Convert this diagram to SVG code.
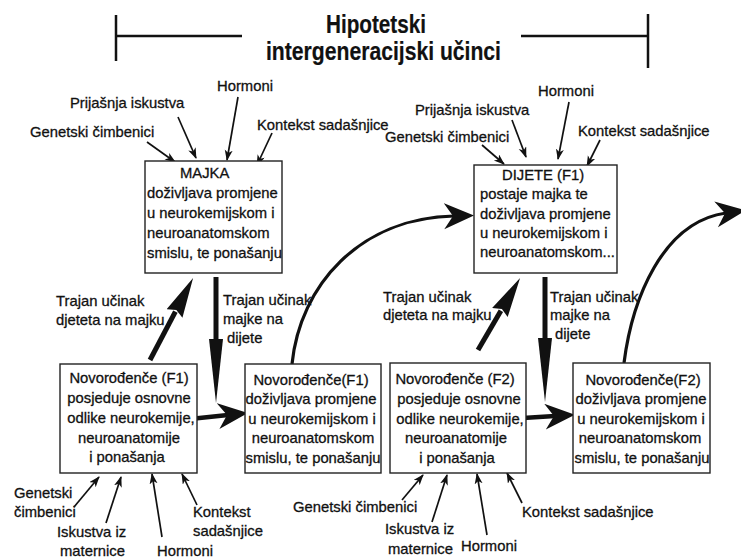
<svg xmlns="http://www.w3.org/2000/svg" width="741" height="558" viewBox="0 0 741 558">
<style>
text{font-family:"Liberation Sans",Arial,sans-serif;font-size:14.8px;fill:#111;stroke:#111;stroke-width:0.3}
.c{text-anchor:middle}
.title{font-weight:bold;font-size:25px;stroke-width:0.2}
.box{fill:#fff;stroke:#222;stroke-width:1.4}
.br{stroke:#111;stroke-width:2.5;fill:none}
.thin{stroke:#111;stroke-width:1.7;fill:none;marker-end:url(#sm)}
.curve{stroke:#111;stroke-width:3.2;fill:none;marker-end:url(#barb)}
.horiz{stroke:#111;stroke-width:4.5;fill:none;marker-end:url(#barb)}
.up{stroke:#111;stroke-width:5;fill:none;marker-end:url(#uph)}
.down{stroke:#111;stroke-width:5;fill:none;marker-end:url(#dnh)}
</style>
<defs>
<marker id="sm" markerUnits="userSpaceOnUse" markerWidth="12" markerHeight="9" refX="10" refY="4" orient="auto"><path d="M0,0 L11,4 L0,8 L3,4 z" fill="#111"/></marker>
<marker id="barb" markerUnits="userSpaceOnUse" markerWidth="31" markerHeight="27" refX="10" refY="13" orient="auto"><path d="M0,0 L30,13 L0,26 L9,13 z" fill="#111"/></marker>
<marker id="uph" markerUnits="userSpaceOnUse" markerWidth="41" markerHeight="19" refX="2" refY="9" orient="auto"><path d="M0,0 L40,9 L0,18 L4,9 z" fill="#111"/></marker>
<marker id="dnh" markerUnits="userSpaceOnUse" markerWidth="65" markerHeight="15" refX="2" refY="7" orient="auto"><path d="M0,0 L64,7 L0,14 z" fill="#111"/></marker>
</defs>
<rect width="741" height="558" fill="#fff"/>

<g id="title">
<path class="br" d="M116,15 V61 M116,36 H242 M521,36 H648 M648,14 V68"/>
<text class="title" x="326" y="33" textLength="100" lengthAdjust="spacingAndGlyphs">Hipotetski</text>
<text class="title" x="266" y="60" textLength="235" lengthAdjust="spacingAndGlyphs">intergeneracijski učinci</text>
</g>

<g id="connectors">
<path class="thin" d="M147,142 L175,162"/>
<path class="thin" d="M178,117 L196,158"/>
<path class="thin" d="M238,97 L227,160"/>
<path class="thin" d="M272,133 L257,165"/>
<path class="thin" d="M482,145 L504,164"/>
<path class="thin" d="M512,120 L526,157"/>
<path class="thin" d="M569,102 L558,159"/>
<path class="thin" d="M600,140 L587,166"/>
<path class="thin" d="M74,507 L99,477"/>
<path class="thin" d="M106,523 L121,477"/>
<path class="thin" d="M162,537 L152,474"/>
<path class="thin" d="M197,505 L182,474"/>
<path class="thin" d="M402,500 L423,475"/>
<path class="thin" d="M432,522 L447,475"/>
<path class="thin" d="M487,535 L477,474"/>
<path class="thin" d="M522,503 L507,473"/>
<path class="up" d="M150,360 L175.4,311.7"/>
<path class="down" d="M216,277 L216,341"/>
<path class="up" d="M478,350 L500.9,310.8"/>
<path class="down" d="M545,277 L545,340"/>
<path class="horiz" d="M190,419 L228,415"/>
<path class="horiz" d="M523,418 L555,416"/>
<path class="curve" d="M292,364 C300,285 360,218 454,216"/>
<path class="curve" d="M624,363 C632,300 662,222 726,213"/>
</g>

<g id="labels-majka">
<text x="217" y="91">Hormoni</text>
<text x="70" y="108">Prijašnja iskustva</text>
<text x="30" y="137">Genetski čimbenici</text>
<text x="257" y="130">Kontekst sadašnjice</text>
</g>

<g id="majka">
<rect class="box" x="145" y="161" width="137" height="112"/>
<text x="180" y="178">MAJKA</text>
<text x="147" y="198">doživljava promjene</text>
<text x="147" y="218">u neurokemijskom i</text>
<text x="147" y="238">neuroanatomskom</text>
<text x="147" y="258">smislu, te ponašanju</text>
</g>

<g id="labels-dijete">
<text x="538" y="96">Hormoni</text>
<text x="415" y="115">Prijašnja iskustva</text>
<text x="385" y="142">Genetski čimbenici</text>
<text x="578" y="136">Kontekst sadašnjice</text>
</g>

<g id="dijete">
<rect class="box" x="474" y="165" width="143" height="108"/>
<text x="502" y="180">DIJETE (F1)</text>
<text x="480" y="199">postaje majka te</text>
<text x="480" y="218.5">doživljava promjene</text>
<text x="480" y="238">u neurokemijskom i</text>
<text x="480" y="257">neuroanatomskom...</text>
</g>

<g id="effects-1">
<text x="56" y="306">Trajan učinak</text>
<text x="56" y="325">djeteta na majku</text>
<text x="223" y="305">Trajan učinak</text>
<text x="223" y="323.5">majke na</text>
<text x="227" y="342.5">dijete</text>
</g>

<g id="effects-2">
<text x="383" y="302">Trajan učinak</text>
<text x="383" y="320">djeteta na majku</text>
<text x="550" y="302">Trajan učinak</text>
<text x="550" y="320">majke na</text>
<text x="555" y="339">dijete</text>
</g>

<g id="novorodjence-f1">
<rect class="box" x="60" y="364" width="137" height="109"/>
<text class="c" x="129" y="383">Novorođenče (F1)</text>
<text class="c" x="129" y="403">posjeduje osnovne</text>
<text class="c" x="131" y="422.5">odlike neurokemije,</text>
<text class="c" x="129" y="442.5">neuroanatomije</text>
<text class="c" x="127" y="462">i ponašanja</text>
</g>

<g id="novorodjence-f1-promjene">
<rect class="box" x="245" y="364" width="136" height="109"/>
<text class="c" x="311" y="384.5">Novorođenče(F1)</text>
<text class="c" x="311" y="404">doživljava promjene</text>
<text class="c" x="312" y="423.5">u neurokemijskom i</text>
<text class="c" x="313" y="443">neuroanatomskom</text>
<text class="c" x="313" y="462.5">smislu, te ponašanju</text>
</g>

<g id="novorodjence-f2">
<rect class="box" x="390" y="363" width="136" height="110"/>
<text class="c" x="455" y="384">Novorođenče (F2)</text>
<text class="c" x="459" y="404">posjeduje osnovne</text>
<text class="c" x="460" y="423.5">odlike neurokemije,</text>
<text class="c" x="456" y="443">neuroanatomije</text>
<text class="c" x="457" y="463">i ponašanja</text>
</g>

<g id="novorodjence-f2-promjene">
<rect class="box" x="573" y="363" width="137" height="110"/>
<text class="c" x="643" y="384.5">Novorođenče(F2)</text>
<text class="c" x="641" y="404">doživljava promjene</text>
<text class="c" x="641" y="423.5">u neurokemijskom i</text>
<text class="c" x="640" y="443">neuroanatomskom</text>
<text class="c" x="642" y="462.5">smislu, te ponašanju</text>
</g>

<g id="labels-f1">
<text x="14" y="498">Genetski</text>
<text x="14" y="517">čimbenici</text>
<text x="57" y="537">Iskustva iz</text>
<text x="60" y="556">maternice</text>
<text x="157" y="556">Hormoni</text>
<text x="193" y="517">Kontekst</text>
<text x="193" y="536">sadašnjice</text>
</g>

<g id="labels-f2">
<text x="293" y="512">Genetski čimbenici</text>
<text x="385" y="534">Iskustva iz</text>
<text x="388" y="554">maternice</text>
<text x="461" y="551">Hormoni</text>
<text x="522" y="517">Kontekst sadašnjice</text>
</g>
</svg>
